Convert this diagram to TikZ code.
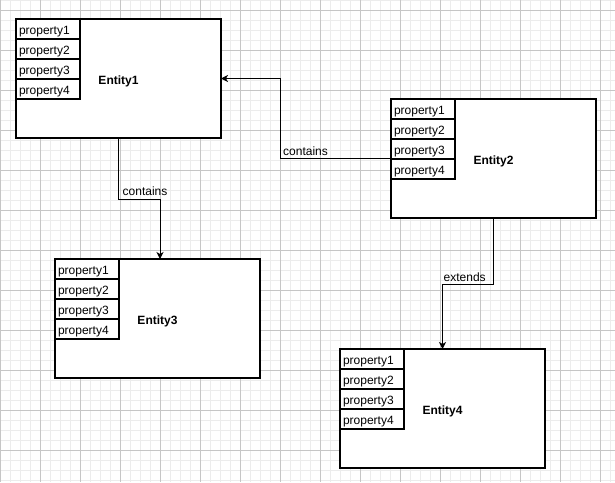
\documentclass[tikz,border=0pt]{standalone}
\usepackage{fontspec}
\setmainfont{Liberation Sans}
\usetikzlibrary{arrows.meta}
\definecolor{minorgrid}{RGB}{236,236,236}
\definecolor{majorgrid}{RGB}{198,198,198}
\begin{document}
\begin{tikzpicture}[x=1pt,y=-1pt,
  entity/.style={draw=black, fill=white, line width=2pt, minimum width=205pt, minimum height=119pt, inner sep=0pt, outer sep=0pt, text height=11pt, text depth=0pt, anchor=north west, font=\fontsize{12}{14}\selectfont\bfseries},
  prop/.style={draw=black, fill=white, line width=2pt, minimum width=64pt, minimum height=20pt, inner xsep=3pt, inner ysep=0pt, outer sep=0pt, text width=58pt, text height=11pt, text depth=0pt, align=left, anchor=north west, font=\fontsize{12}{14}\selectfont},
  conn/.style={draw=black, line width=1pt, -{Stealth[length=7pt,width=7pt,inset=2pt]}},
  lbl/.style={font=\fontsize{12}{14}\selectfont, inner sep=0pt, anchor=base west},
  minorline/.style={draw=minorgrid, line width=1pt},
  majorline/.style={draw=majorgrid, line width=1pt}
]
\useasboundingbox (0,0) rectangle (615,482);
\fill[white] (0,0) rectangle (615,482);
% grid
\foreach \x in {0,10,...,610} \draw[minorline] (\x,0) -- (\x,482);
\foreach \y in {0,10,...,480} \draw[minorline] (0,\y) -- (615,\y);
\foreach \x in {0,40,...,600} \draw[majorline] (\x,0) -- (\x,482);
\foreach \y in {10,50,...,450} \draw[majorline] (0,\y) -- (615,\y);

% entities
\node[entity] (e1) at (16,19) {Entity1};
\node[prop] (e1p1) at (e1.north west) {property1};
\node[prop] (e1p2) at (e1p1.south west) {property2};
\node[prop] (e1p3) at (e1p2.south west) {property3};
\node[prop] (e1p4) at (e1p3.south west) {property4};

\node[entity] (e2) at (391,99) {Entity2};
\node[prop] (e2p1) at (e2.north west) {property1};
\node[prop] (e2p2) at (e2p1.south west) {property2};
\node[prop] (e2p3) at (e2p2.south west) {property3};
\node[prop] (e2p4) at (e2p3.south west) {property4};

\node[entity] (e3) at (55,259) {Entity3};
\node[prop] (e3p1) at (e3.north west) {property1};
\node[prop] (e3p2) at (e3p1.south west) {property2};
\node[prop] (e3p3) at (e3p2.south west) {property3};
\node[prop] (e3p4) at (e3p3.south west) {property4};

\node[entity] (e4) at (340,349) {Entity4};
\node[prop] (e4p1) at (e4.north west) {property1};
\node[prop] (e4p2) at (e4p1.south west) {property2};
\node[prop] (e4p3) at (e4p2.south west) {property3};
\node[prop] (e4p4) at (e4p3.south west) {property4};

% connectors
\coordinate (k1) at (280,0);
\draw[conn] (e2.west) -- (e2.west -| k1) -- (e1.east -| k1) -- (e1.east);
\node[lbl] (t1) at (283,155) {contains};

\coordinate (k2) at (160,199);
\draw[conn] (e1.south) -- (e1.south |- k2) -- (k2) -- (k2 |- e3.north);
\node[lbl] (t2) at (122.5,195) {contains};

\coordinate (k3) at (442.5,284);
\draw[conn] (e2.south) -- (e2.south |- k3) -- (k3) -- (k3 |- e4.north);
\node[lbl] (t3) at (443.5,281) {extends};
\end{tikzpicture}
\end{document}
